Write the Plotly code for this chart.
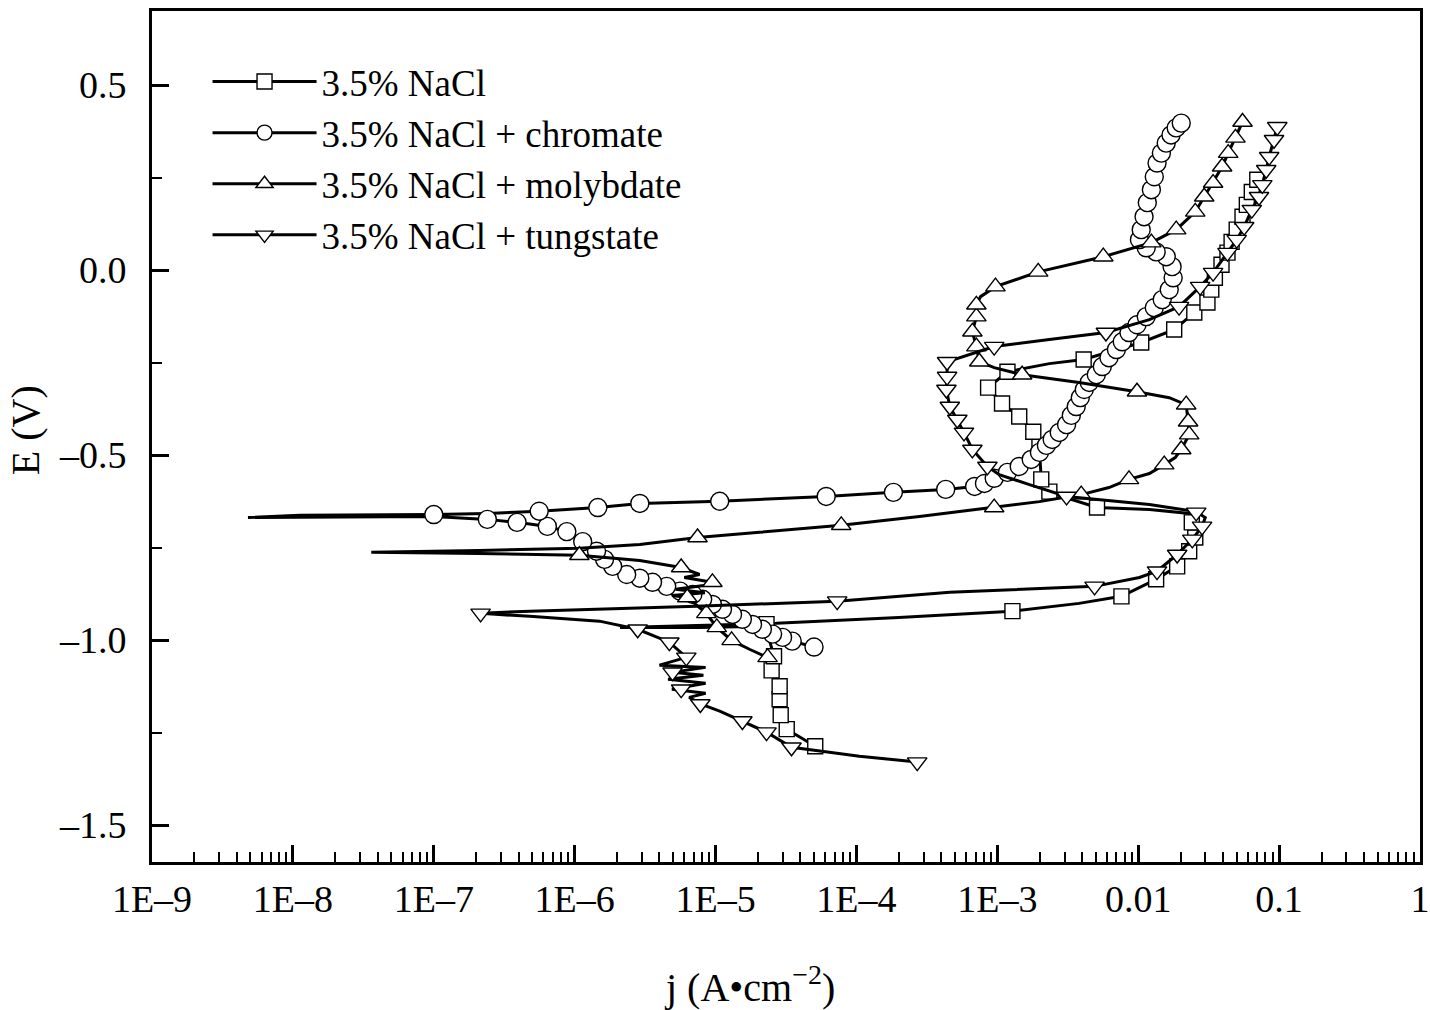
import plotly.graph_objects as go

# ---- 3.5% NaCl (squares) ----
nacl_j = [5.1e-5, 3.2e-5, 2.9e-5, 2.85e-5, 2.85e-5, 2.5e-5, 2.6e-5, 2.4e-5, 2.3e-5, 7.7e-6,
          2.1e-6, 7.7e-6, 2.7e-5, 2.0e-4, 1.28e-3, 3.8e-3, 7.6e-3, 1.34e-2, 1.89e-2, 2.4e-2,
          2.6e-2, 2.6e-2, 2.3e-2, 1.2e-2, 5.1e-3, 2.34e-3, 2.05e-3, 1.99e-3, 1.8e-3, 1.43e-3,
          1.08e-3, 8.6e-4, 1.18e-3, 2.34e-3, 4.1e-3, 1.05e-2, 1.8e-2, 2.5e-2, 3.1e-2, 3.5e-2,
          4.0e-2, 4.6e-2, 5.5e-2, 6.4e-2, 7.0e-2]
nacl_E = [-1.287, -1.241, -1.203, -1.160, -1.125, -1.082, -1.044, -0.998, -0.963, -0.966,
          -0.966, -0.960, -0.955, -0.939, -0.922, -0.901, -0.882, -0.836, -0.801, -0.755,
          -0.715, -0.680, -0.658, -0.647, -0.642, -0.601, -0.566, -0.485, -0.437, -0.396,
          -0.361, -0.318, -0.275, -0.253, -0.242, -0.196, -0.161, -0.115, -0.080, -0.026,
          0.022, 0.076, 0.144, 0.211, 0.244]
nacl_mj = [5.1e-5, 3.2e-5, 2.9e-5, 2.85e-5, 2.85e-5, 2.5e-5, 2.6e-5, 2.3e-5, 1.28e-3, 7.6e-3,
           1.34e-2, 1.89e-2, 2.3e-2, 2.54e-2, 2.4e-2, 5.1e-3, 2.34e-3, 2.05e-3, 1.99e-3, 1.8e-3,
           1.43e-3, 1.08e-3, 8.6e-4, 1.18e-3, 4.1e-3, 1.05e-2, 1.8e-2, 2.5e-2, 3.1e-2, 3.3e-2,
           3.5e-2, 3.9e-2, 4.3e-2, 4.6e-2, 5.0e-2, 5.5e-2, 5.9e-2, 6.4e-2, 7.0e-2]
nacl_mE = [-1.287, -1.241, -1.203, -1.160, -1.125, -1.082, -1.044, -0.957, -0.922, -0.882,
           -0.836, -0.801, -0.760, -0.723, -0.682, -0.642, -0.599, -0.566, -0.477, -0.437,
           -0.396, -0.361, -0.318, -0.275, -0.242, -0.196, -0.161, -0.115, -0.088, -0.053,
           -0.021, 0.014, 0.047, 0.076, 0.109, 0.144, 0.176, 0.211, 0.244]

# ---- 3.5% NaCl + chromate (circles) ----
chro_j = [5.0e-5, 3.5e-5, 2.99e-5, 2.54e-5, 2.15e-5, 1.83e-5, 1.55e-5, 1.32e-5, 1.12e-5, 9.5e-6,
          8.1e-6, 6.9e-6, 5.6e-6, 4.5e-6, 3.57e-6, 2.9e-6, 2.34e-6, 1.86e-6, 1.63e-6, 1.43e-6,
          1.14e-6, 8.8e-7, 6.4e-7, 3.9e-7, 2.4e-7, 1.0e-7, 1.12e-8, 4.8e-9, 1.12e-8, 1.0e-7,
          2.4e-7, 5.6e-7, 1.46e-6, 2.9e-6, 1.07e-5, 6.1e-5, 1.83e-4, 4.3e-4, 6.9e-4, 8.1e-4,
          9.5e-4, 1.18e-3, 1.43e-3, 1.74e-3, 1.99e-3, 2.23e-3, 2.45e-3, 2.75e-3, 3.1e-3, 3.35e-3,
          3.63e-3, 3.88e-3, 4.14e-3, 4.49e-3, 5.04e-3, 5.56e-3, 6.2e-3, 7.0e-3, 7.7e-3, 8.6e-3,
          9.8e-3, 1.14e-2, 1.30e-2, 1.48e-2, 1.66e-2, 1.77e-2, 1.74e-2, 1.58e-2, 1.34e-2, 1.14e-2,
          1.02e-2, 1.05e-2, 1.10e-2, 1.16e-2, 1.24e-2, 1.30e-2, 1.36e-2, 1.46e-2, 1.58e-2, 1.71e-2,
          1.86e-2, 2.02e-2]
chro_E = [-1.019, -1.003, -0.993, -0.984, -0.971, -0.958, -0.944, -0.931, -0.917, -0.904,
          -0.890, -0.877, -0.868, -0.855, -0.844, -0.833, -0.823, -0.801, -0.782, -0.760,
          -0.734, -0.707, -0.693, -0.682, -0.674, -0.666, -0.669, -0.669, -0.663, -0.661,
          -0.658, -0.652, -0.642, -0.631, -0.625, -0.612, -0.601, -0.593, -0.585, -0.577,
          -0.563, -0.547, -0.531, -0.512, -0.493, -0.474, -0.458, -0.439, -0.418, -0.393,
          -0.369, -0.345, -0.323, -0.304, -0.283, -0.261, -0.237, -0.215, -0.194, -0.169,
          -0.148, -0.126, -0.102, -0.080, -0.053, -0.021, 0.009, 0.036, 0.049, 0.060,
          0.082, 0.109, 0.144, 0.182, 0.217, 0.252, 0.289, 0.316, 0.343, 0.365,
          0.384, 0.397]
chro_mj = [5.0e-5, 3.5e-5, 2.99e-5, 2.54e-5, 2.15e-5, 1.83e-5, 1.55e-5, 1.32e-5, 1.12e-5, 9.5e-6,
           8.1e-6, 6.9e-6, 5.6e-6, 4.5e-6, 3.57e-6, 2.9e-6, 2.34e-6, 1.86e-6, 1.63e-6, 1.43e-6,
           1.14e-6, 8.8e-7, 6.4e-7, 3.9e-7, 2.4e-7, 1.0e-7, 5.6e-7, 1.46e-6, 2.9e-6, 1.07e-5,
           6.1e-5, 1.83e-4, 4.3e-4, 6.9e-4, 8.1e-4, 9.5e-4, 1.18e-3, 1.43e-3, 1.74e-3, 1.99e-3,
           2.23e-3, 2.45e-3, 2.75e-3, 3.1e-3, 3.35e-3, 3.63e-3, 3.88e-3, 4.14e-3, 4.49e-3, 5.04e-3,
           5.56e-3, 6.2e-3, 7.0e-3, 7.7e-3, 8.6e-3, 9.8e-3, 1.14e-2, 1.30e-2, 1.48e-2, 1.66e-2,
           1.77e-2, 1.74e-2, 1.58e-2, 1.34e-2, 1.14e-2, 1.02e-2, 1.05e-2, 1.10e-2, 1.16e-2, 1.24e-2,
           1.30e-2, 1.36e-2, 1.46e-2, 1.58e-2, 1.71e-2, 1.86e-2, 2.02e-2]
chro_mE = [-1.019, -1.003, -0.993, -0.984, -0.971, -0.958, -0.944, -0.931, -0.917, -0.904,
           -0.890, -0.877, -0.868, -0.855, -0.844, -0.833, -0.823, -0.801, -0.782, -0.760,
           -0.734, -0.707, -0.693, -0.682, -0.674, -0.661, -0.652, -0.642, -0.631, -0.625,
           -0.612, -0.601, -0.593, -0.585, -0.577, -0.563, -0.547, -0.531, -0.512, -0.493,
           -0.474, -0.458, -0.439, -0.418, -0.393, -0.369, -0.345, -0.323, -0.304, -0.283,
           -0.261, -0.237, -0.215, -0.194, -0.169, -0.148, -0.126, -0.102, -0.080, -0.053,
           -0.021, 0.009, 0.036, 0.049, 0.060, 0.082, 0.109, 0.144, 0.182, 0.217,
           0.252, 0.289, 0.316, 0.343, 0.365, 0.384, 0.397]

# ---- 3.5% NaCl + molybdate (triangles up) ----
moly_j = [2.34e-5, 1.74e-5, 1.30e-5, 1.02e-5, 8.6e-6, 7.1e-6, 6.3e-6, 4.9e-6, 8.4e-6, 5.2e-6,
          8.5e-6, 9.5e-6, 6.0e-6, 7.7e-6, 5.7e-6, 2.9e-6, 1.08e-6, 2.1e-7, 3.6e-8, 2.1e-7,
          1.08e-6, 2.9e-6, 7.45e-6, 2.05e-5, 7.8e-5, 2.8e-4, 9.5e-4, 1.99e-3, 3.94e-3, 6.2e-3,
          8.6e-3, 1.2e-2, 1.53e-2, 1.83e-2, 2.02e-2, 2.3e-2, 2.26e-2, 2.19e-2, 1.66e-2, 9.8e-3,
          3.8e-3, 1.5e-3, 9.5e-4, 7.45e-4, 7.1e-4, 6.65e-4, 7.1e-4, 7.1e-4, 7.6e-4, 9.7e-4,
          1.95e-3, 5.65e-3, 1.24e-2, 1.86e-2, 2.54e-2, 2.94e-2, 3.4e-2, 3.94e-2, 4.35e-2, 4.9e-2,
          5.5e-2]
moly_E = [-1.047, -1.025, -1.001, -0.966, -0.928, -0.901, -0.885, -0.880, -0.872, -0.863,
          -0.852, -0.844, -0.831, -0.823, -0.804, -0.785, -0.771, -0.766, -0.763, -0.758,
          -0.752, -0.742, -0.723, -0.709, -0.690, -0.666, -0.642, -0.626, -0.607, -0.588,
          -0.566, -0.550, -0.526, -0.507, -0.485, -0.445, -0.410, -0.364, -0.345, -0.329,
          -0.304, -0.283, -0.264, -0.248, -0.207, -0.167, -0.126, -0.094, -0.072, -0.045,
          -0.005, 0.036, 0.074, 0.109, 0.157, 0.198, 0.235, 0.279, 0.316, 0.357,
          0.400]
moly_mj = [2.34e-5, 1.30e-5, 1.02e-5, 8.6e-6, 6.3e-6, 9.5e-6, 5.7e-6, 1.08e-6, 7.45e-6, 7.8e-5,
           9.5e-4, 3.94e-3, 8.6e-3, 1.53e-2, 2.02e-2, 2.3e-2, 2.26e-2, 2.19e-2, 9.8e-3, 1.5e-3,
           7.45e-4, 7.1e-4, 6.65e-4, 7.1e-4, 7.1e-4, 9.7e-4, 1.95e-3, 5.65e-3, 1.24e-2, 1.86e-2,
           2.54e-2, 2.94e-2, 3.4e-2, 3.94e-2, 4.35e-2, 4.9e-2, 5.5e-2]
moly_mE = [-1.047, -1.001, -0.966, -0.928, -0.885, -0.844, -0.804, -0.771, -0.723, -0.690,
           -0.642, -0.607, -0.566, -0.526, -0.485, -0.445, -0.410, -0.364, -0.329, -0.283,
           -0.248, -0.207, -0.167, -0.126, -0.094, -0.045, -0.005, 0.036, 0.074, 0.109,
           0.157, 0.198, 0.235, 0.279, 0.316, 0.357, 0.400]

# ---- 3.5% NaCl + tungstate (triangles down) ----
tung_j = [2.7e-4, 1.05e-4, 5.5e-5, 3.46e-5, 2.3e-5, 1.55e-5, 1.07e-5, 7.8e-6, 6.5e-6, 8.5e-6,
          4.9e-6, 8.5e-6, 4.6e-6, 8.2e-6, 4.95e-6, 8.5e-6, 4.0e-6, 6.2e-6, 4.7e-6, 2.8e-6,
          1.5e-6, 4.8e-7, 2.15e-7, 4.8e-7, 1.5e-6, 7.3e-6, 7.3e-5, 4.6e-4, 4.9e-3, 1.02e-2,
          1.36e-2, 1.89e-2, 2.42e-2, 2.84e-2, 2.99e-2, 2.58e-2, 1.2e-2, 3.1e-3, 1.69e-3, 1.03e-3,
          8.5e-4, 6.65e-4, 5.8e-4, 5.2e-4, 4.6e-4, 4.35e-4, 4.4e-4, 4.4e-4, 9.5e-4, 2.34e-3,
          5.9e-3, 1.2e-2, 1.95e-2, 2.75e-2, 3.4e-2, 4.3e-2, 5.0e-2, 5.65e-2, 6.4e-2, 7.2e-2,
          7.6e-2, 8.1e-2, 8.5e-2, 9.2e-2, 9.7e-2]
tung_E = [-1.330, -1.314, -1.300, -1.290, -1.249, -1.219, -1.192, -1.173, -1.155, -1.144,
          -1.133, -1.117, -1.106, -1.095, -1.087, -1.074, -1.068, -1.047, -1.006, -0.971,
          -0.949, -0.936, -0.928, -0.922, -0.917, -0.909, -0.895, -0.871, -0.855, -0.831,
          -0.814, -0.769, -0.728, -0.693, -0.669, -0.653, -0.634, -0.612, -0.580, -0.553,
          -0.531, -0.485, -0.439, -0.404, -0.369, -0.323, -0.288, -0.248, -0.207, -0.188,
          -0.169, -0.134, -0.099, -0.045, -0.007, 0.047, 0.082, 0.117, 0.163, 0.198,
          0.230, 0.271, 0.306, 0.352, 0.387]
tung_mj = [2.7e-4, 3.46e-5, 2.3e-5, 1.55e-5, 7.8e-6, 5.7e-6, 4.95e-6, 6.2e-6, 4.7e-6, 2.8e-6,
           2.15e-7, 7.3e-5, 4.9e-3, 1.36e-2, 1.89e-2, 2.42e-2, 2.84e-2, 2.58e-2, 3.1e-3, 8.5e-4,
           6.65e-4, 5.8e-4, 5.2e-4, 4.6e-4, 4.35e-4, 4.4e-4, 4.4e-4, 9.5e-4, 5.9e-3, 1.95e-2,
           2.75e-2, 3.4e-2, 4.3e-2, 5.0e-2, 5.65e-2, 6.4e-2, 7.2e-2, 7.6e-2, 8.1e-2, 8.5e-2,
           9.2e-2, 9.7e-2]
tung_mE = [-1.330, -1.290, -1.249, -1.219, -1.173, -1.133, -1.087, -1.047, -1.006, -0.971,
           -0.928, -0.895, -0.855, -0.814, -0.769, -0.728, -0.693, -0.655, -0.612, -0.531,
           -0.485, -0.439, -0.404, -0.369, -0.323, -0.288, -0.248, -0.207, -0.169, -0.099,
           -0.045, -0.007, 0.047, 0.082, 0.117, 0.163, 0.198, 0.230, 0.271, 0.306,
           0.352, 0.387]

series_names = ["3.5% NaCl", "3.5% NaCl + chromate", "3.5% NaCl + molybdate", "3.5% NaCl + tungstate"]

x_tickvals = [1e-9, 1e-8, 1e-7, 1e-6, 1e-5, 1e-4, 1e-3, 1e-2, 1e-1, 1]
x_ticktext = ["1E\u20139", "1E\u20138", "1E\u20137", "1E\u20136", "1E\u20135",
              "1E\u20134", "1E\u20133", "0.01", "0.1", "1"]
y_tickvals = [-1.5, -1.0, -0.5, 0.0, 0.5]
y_ticktext = ["\u20131.5", "\u20131.0", "\u20130.5", "0.0", "0.5"]

FONT = "Liberation Serif, Times New Roman, serif"

series = [
    (nacl_j, nacl_E, nacl_mj, nacl_mE, "square", 15),
    (chro_j, chro_E, chro_mj, chro_mE, "circle", 18),
    (moly_j, moly_E, moly_mj, moly_mE, "triangle-up", 17),
    (tung_j, tung_E, tung_mj, tung_mE, "triangle-down", 17),
]

fig = go.Figure()

for (lj, lE, mj, mE, sym, size), name in zip(series, series_names):
    fig.add_trace(go.Scatter(
        x=lj, y=lE, mode="lines",
        line=dict(color="black", width=3),
        showlegend=False, hoverinfo="skip"
    ))
    fig.add_trace(go.Scatter(
        x=mj, y=mE, mode="markers",
        marker=dict(symbol=sym, size=size, color="white",
                    line=dict(color="black", width=1.4)),
        showlegend=False
    ))

# legend entries (line + marker + line)
for (lj, lE, mj, mE, sym, size), name in zip(series, series_names):
    fig.add_trace(go.Scatter(
        x=[None], y=[None], mode="lines+markers", name=name,
        line=dict(color="black", width=3),
        marker=dict(symbol=sym, size=15, color="white",
                    line=dict(color="black", width=1.4))
    ))

minor_x = [k * 10.0 ** n for n in range(-9, 0) for k in range(2, 10)]

fig.update_xaxes(
    type="log", range=[-9, 0], automargin=False,
    tickmode="array", tickvals=x_tickvals, ticktext=x_ticktext,
    ticks="inside", ticklen=17, tickwidth=3, tickcolor="black",
    minor=dict(tickmode="array", tickvals=minor_x, ticks="inside",
               ticklen=10, tickwidth=2, tickcolor="black"),
    showline=True, linewidth=3, linecolor="black", mirror=True,
    showgrid=False, zeroline=False,
    tickfont=dict(family=FONT, size=38, color="black"),
    ticklabelstandoff=1,
)

fig.update_yaxes(
    range=[-1.6, 0.7], automargin=False,
    tickmode="array", tickvals=y_tickvals, ticktext=y_ticktext,
    ticks="inside", ticklen=17, tickwidth=3, tickcolor="black",
    minor=dict(dtick=0.25, tick0=0, ticks="inside", ticklen=10,
               tickwidth=2, tickcolor="black"),
    showline=True, linewidth=3, linecolor="black", mirror=True,
    showgrid=False, zeroline=False,
    tickfont=dict(family=FONT, size=38, color="black"),
    ticklabelstandoff=15,
)

# axis titles as paper annotations so they sit where the original puts them
fig.add_annotation(
    text="j (A\u2022cm<sup>\u22122</sup>)", xref="paper", yref="paper",
    x=0.4716, y=-0.1445, showarrow=False, xanchor="center", yanchor="middle",
    font=dict(family=FONT, size=40, color="black"),
)
fig.add_annotation(
    text="E (V)", xref="paper", yref="paper", textangle=-90,
    x=-0.100, y=0.5076, showarrow=False, xanchor="center", yanchor="middle",
    font=dict(family=FONT, size=40, color="black"),
)

fig.update_layout(
    width=1430, height=1010,
    margin=dict(l=152, r=10, t=11, b=148),
    paper_bgcolor="white", plot_bgcolor="white",
    font=dict(family=FONT, color="black"),
    legend=dict(
        x=0.0438, y=0.953, xanchor="left", yanchor="top",
        bgcolor="rgba(0,0,0,0)", borderwidth=0,
        itemwidth=104,
        font=dict(family=FONT, size=37, color="black"),
    ),
)

# drop the default page margin so the 1430x1010 figure fills the window exactly
fig.write_html("out.html", config={"displayModeBar": False},
               post_script="document.body.style.margin='0px';")
